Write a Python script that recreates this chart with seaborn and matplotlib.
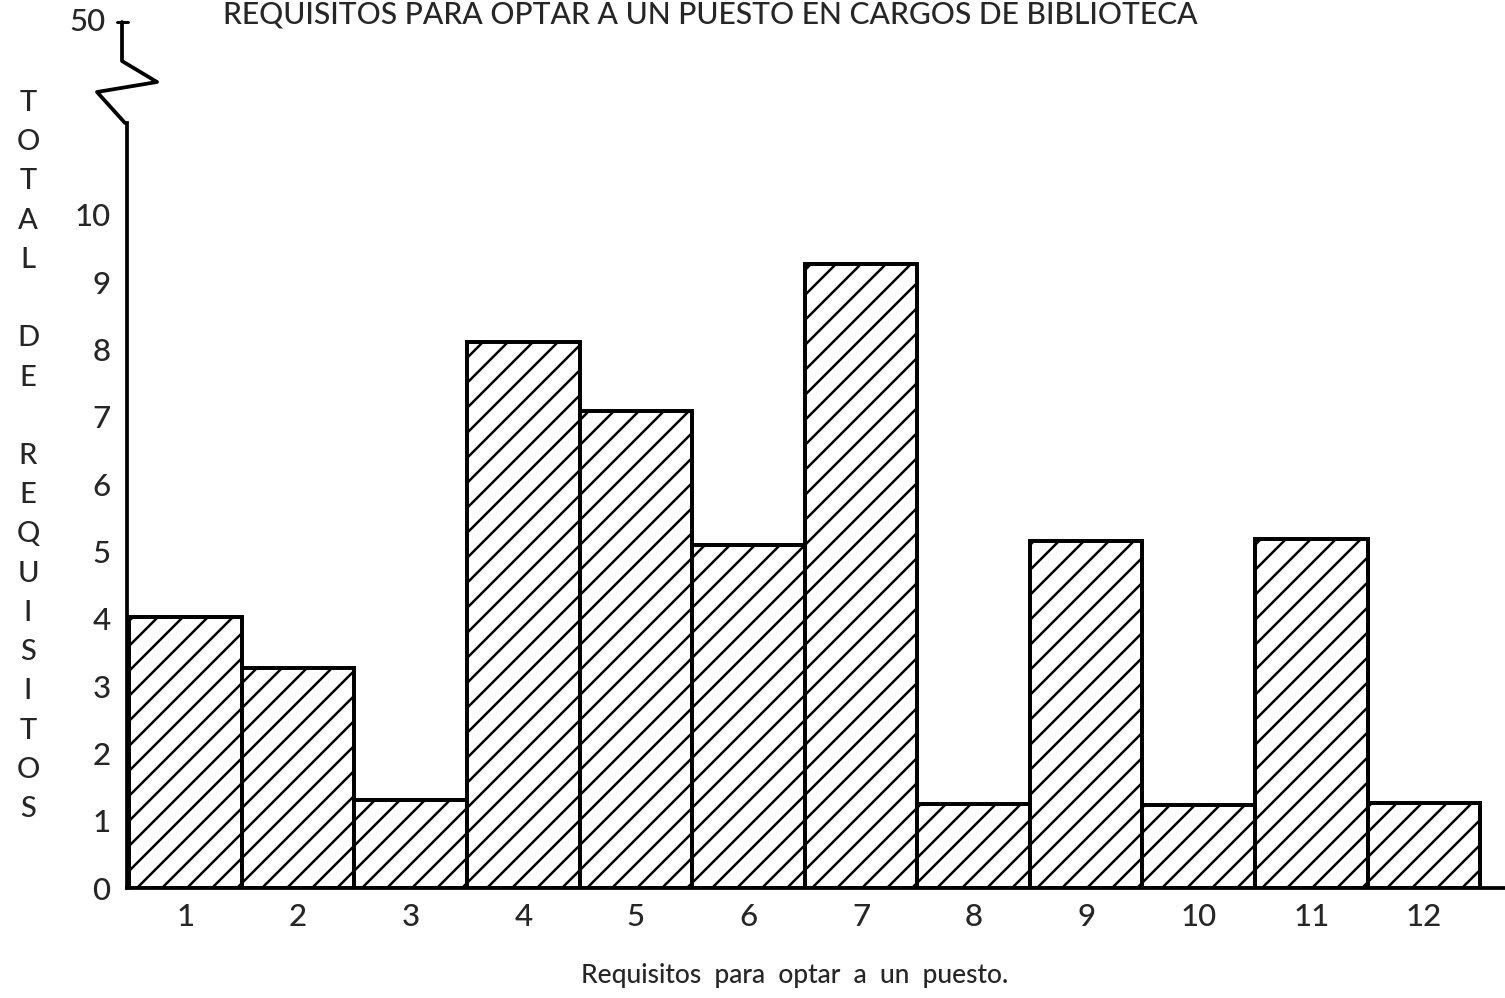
import matplotlib
matplotlib.use("Agg")
import matplotlib.pyplot as plt
import seaborn as sns
import pandas as pd

sns.set_style("white")
plt.rcParams['font.family'] = ['Lato', 'DejaVu Sans']

# data
requisitos = [str(i) for i in range(1, 13)]
totales = [4.03, 3.27, 1.31, 8.11, 7.09, 5.10, 9.27, 1.25, 5.16, 1.23, 5.19, 1.26]
ytick_vals = list(range(0, 11))
ytick_labels = [str(v) for v in ytick_vals]
top_label = "50"
titulo = "REQUISITOS PARA OPTAR A UN PUESTO EN CARGOS DE BIBLIOTECA"
xlabel = "Requisitos  para  optar  a  un  puesto."
ylabel_words = ["TOTAL", "DE", "REQUISITOS"]

df = pd.DataFrame({'requisito': requisitos, 'total': totales})

W, H, DPI = 1505, 998, 150
fig = plt.figure(figsize=(W / DPI, H / DPI), dpi=DPI)
plt.rcParams['hatch.linewidth'] = 1.2
plt.rcParams['hatch.color'] = 'black'


def px(x, y):
    # pixel position -> figure fraction
    return x / W, 1 - y / H


ax_left, ax_bottom = px(127, 888)
_, ax_top = px(127, 123)
ax = fig.add_axes([ax_left, ax_bottom, 1 - ax_left, ax_top - ax_bottom])

sns.barplot(data=df, x='requisito', y='total', color='white', width=1.0,
            edgecolor='black', linewidth=1.9, hatch='//', ax=ax)

ax.set_xlim(-0.52, 11.72)
ax.set_ylim(0, 765 / 67.3)
ax.set_yticks(ytick_vals)
ax.set_yticklabels(ytick_labels)
ax.tick_params(axis='y', length=0, pad=8, labelsize=15)
ax.tick_params(axis='x', length=0, pad=7, labelsize=15)
for lab in ax.get_xticklabels() + ax.get_yticklabels():
    lab.set_fontweight('medium')
ax.set_xlabel("")
ax.set_ylabel("")

for s in ['top', 'right']:
    ax.spines[s].set_visible(False)
for s in ['left', 'bottom']:
    ax.spines[s].set_linewidth(1.8)
    ax.spines[s].set_color('black')

# axis break zigzag above the 10 mark, up to 50
brk = [(125, 123), (97, 92), (157, 82), (122, 61), (122, 22)]
fig.add_artist(plt.Line2D([px(*p)[0] for p in brk], [px(*p)[1] for p in brk],
                          color='black', lw=1.8, transform=fig.transFigure))
fig.add_artist(plt.Line2D([px(117, 22)[0], px(128, 22)[0]], [px(117, 22)[1]] * 2,
                          color='black', lw=1.4, transform=fig.transFigure))
fig.text(*px(106, 22), top_label, ha='right', va='center', fontsize=15,
         fontweight='medium')

# title (cut at top edge in the scan)
fig.text(*px(710, 15), titulo, ha='center', va='center', fontsize=14.4,
         fontweight='medium')

# stacked y label
fig.text(*px(28, 456), "\n\n".join("\n".join(w) for w in ylabel_words),
         ha='center', va='center', fontsize=14, linespacing=1.63,
         fontweight='medium')

fig.text(*px(795, 975), xlabel, ha='center', va='center', fontsize=12.7,
         fontweight='medium')

fig.savefig("out.png", dpi=DPI)
